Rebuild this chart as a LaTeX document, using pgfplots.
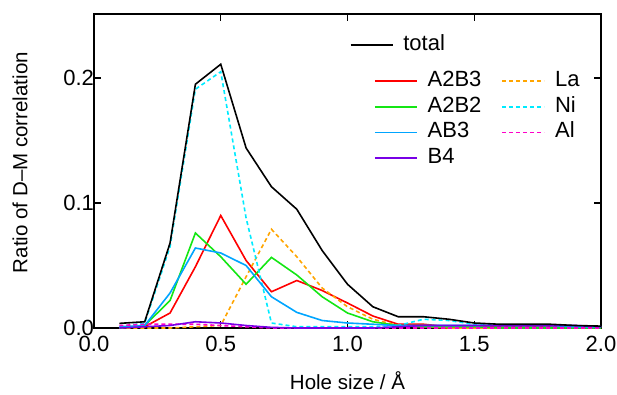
\documentclass[border=0pt]{standalone}
\usepackage{fontspec}
\setmainfont{Liberation Sans}
\usepackage{pgfplots}
\pgfplotsset{compat=1.18}
\definecolor{cRed}{RGB}{255,0,0}
\definecolor{cGreen}{RGB}{20,230,20}
\definecolor{cBlue}{RGB}{0,165,255}
\definecolor{cPurple}{RGB}{120,0,230}
\definecolor{cOrange}{RGB}{255,165,0}
\definecolor{cCyan}{RGB}{0,235,255}
\definecolor{cMag}{RGB}{255,0,200}
\pgfplotsset{
  common/.style={
    at={(0,0)}, anchor=south west,
    scale only axis, width=507pt, height=314pt,
    xmin=0, xmax=2, ymin=0, ymax=0.2512,
    font=\fontsize{20.5}{24}\selectfont,
  },
  sol/.style={line width=1.6pt},
  dsh/.style={line width=1.6pt, dash pattern=on 4pt off 3pt},
}
\begin{document}
\begin{tikzpicture}
\begin{axis}[common,
  xtick={0,0.5,1,1.5,2}, ytick={0,0.1,0.2},
  tick align=inside, tick pos=both, major tick length=7pt,
  minor tick num=0,
  axis line style={line width=1.3pt},
  every tick/.style={black, line width=1.1pt},
  scaled y ticks=false,
  tick label style={font=\fontsize{22}{26}\selectfont},
  xticklabel style={yshift=-5pt},
  yticklabel style={xshift=3.5pt},
  xlabel={Hole size / Å},
  ylabel={Ratio of D–M correlation},
  xlabel style={at={(axis description cs:0.5,0)}, anchor=base, yshift=-61pt},
  ylabel style={at={(axis description cs:-0.146,0.527)}, anchor=center},
  legend columns=2,
  legend cell align=left,
  legend image code/.code={\draw[#1] (0pt,0pt) -- (42pt,0pt);},
  legend style={draw=none, fill=none, inner sep=0pt,
    font=\fontsize{22}{26}\selectfont,
    at={(axis cs:1.104,0.2068)}, anchor=north west,
    nodes={inner sep=2pt, text height=15pt, text depth=4pt},
    row sep=2.6pt,
    /tikz/every odd column/.append style={column sep=8pt},
    /tikz/every even column/.append style={column sep=18pt}},
  /pgf/number format/fixed, /pgf/number format/fixed zerofill,
  /pgf/number format/precision=1, /pgf/number format/assume math mode=true,
]
\addplot[sol, cRed] coordinates {(0.1,0) (0.2,0.001) (0.3,0.012) (0.4,0.049) (0.5,0.090) (0.6,0.054) (0.7,0.029) (0.8,0.038) (0.9,0.030) (1.0,0.020) (1.1,0.0096) (1.2,0.003) (1.3,0.003) (1.4,0.001) (1.5,0.001) (1.6,0.001) (1.7,0.001) (1.8,0.001) (1.9,0.001) (2.0,0.001)};
\addlegendentry{A2B3}
\addplot[dsh, cOrange] coordinates {(0.1,0) (0.2,0) (0.3,0) (0.4,0.001) (0.5,0.002) (0.6,0.041) (0.7,0.079) (0.8,0.057) (0.9,0.032) (1.0,0.017) (1.1,0.007) (1.2,0.002) (1.3,0.001) (1.4,0) (1.5,0) (1.6,0) (1.7,0) (1.8,0) (1.9,0) (2.0,0)};
\addlegendentry{La}
\addplot[sol, cGreen] coordinates {(0.1,0) (0.2,0.002) (0.3,0.022) (0.4,0.076) (0.5,0.057) (0.6,0.035) (0.7,0.0565) (0.8,0.0424) (0.9,0.025) (1.0,0.012) (1.1,0.005) (1.2,0.002) (1.3,0.001) (1.4,0.001) (1.5,0.001) (1.6,0) (1.7,0) (1.8,0) (1.9,0) (2.0,0)};
\addlegendentry{A2B2}
\addplot[dsh, cCyan] coordinates {(0.1,0.001) (0.2,0.004) (0.3,0.065) (0.4,0.191) (0.5,0.205) (0.6,0.088) (0.7,0.004) (0.8,0.001) (0.9,0.001) (1.0,0.001) (1.1,0.001) (1.2,0.002) (1.3,0.007) (1.4,0.006) (1.5,0.003) (1.6,0.002) (1.7,0.002) (1.8,0.002) (1.9,0.001) (2.0,0.001)};
\addlegendentry{Ni}
\addplot[sol, cBlue] coordinates {(0.1,0.001) (0.2,0.002) (0.3,0.028) (0.4,0.064) (0.5,0.060) (0.6,0.050) (0.7,0.025) (0.8,0.0125) (0.9,0.006) (1.0,0.004) (1.1,0.003) (1.2,0.002) (1.3,0.002) (1.4,0.002) (1.5,0.002) (1.6,0.002) (1.7,0.002) (1.8,0.002) (1.9,0.001) (2.0,0.001)};
\addlegendentry{AB3}
\addplot[dsh, cMag] coordinates {(0.1,0.002) (0.2,0.003) (0.3,0.003) (0.4,0.003) (0.5,0.002) (0.6,0.001) (0.7,0) (0.8,0) (0.9,0) (1.0,0) (1.1,0) (1.2,0) (1.3,0) (1.4,0) (1.5,0) (1.6,0) (1.7,0) (1.8,0) (1.9,0) (2.0,0)};
\addlegendentry{Al}
\addplot[sol, cPurple] coordinates {(0.1,0) (0.2,0.001) (0.3,0.002) (0.4,0.005) (0.5,0.004) (0.6,0.002) (0.7,0.0005) (0.8,0) (0.9,0) (1.0,0) (1.1,0) (1.2,0.001) (1.3,0.002) (1.4,0.002) (1.5,0.002) (1.6,0.002) (1.7,0.002) (1.8,0.002) (1.9,0.002) (2.0,0.001)};
\addlegendentry{B4}
\end{axis}
\begin{axis}[common, hide axis,
  legend cell align=left,
  legend image code/.code={\draw[#1] (0pt,0pt) -- (42pt,0pt);},
  legend style={draw=none, fill=none, inner sep=0pt,
    font=\fontsize{22}{26}\selectfont,
    at={(axis cs:1.008,0.2266)}, anchor=west,
    nodes={inner sep=2pt, text height=15pt, text depth=4pt},
    /tikz/every odd column/.append style={column sep=8pt}},
]
\addplot[sol, black] coordinates {(0.1,0.0037) (0.2,0.005) (0.3,0.068) (0.4,0.195) (0.5,0.211) (0.6,0.144) (0.7,0.113) (0.8,0.095) (0.9,0.062) (1.0,0.035) (1.1,0.017) (1.2,0.009) (1.3,0.009) (1.4,0.007) (1.5,0.004) (1.6,0.003) (1.7,0.003) (1.8,0.003) (1.9,0.002) (2.0,0.0015)};
\addlegendentry{total}
\end{axis}
\pgfresetboundingbox
\path (-94pt,-66pt) rectangle (523pt,328pt);
\end{tikzpicture}
\end{document}
